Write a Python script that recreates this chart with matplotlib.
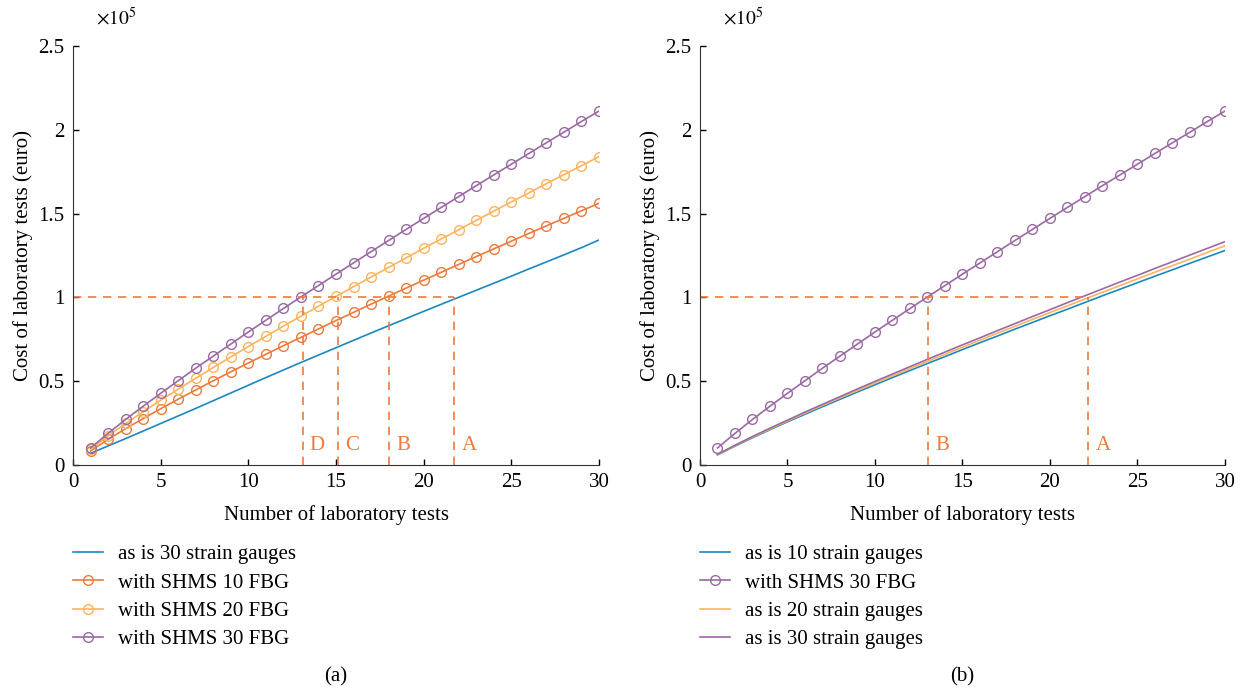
import numpy as np
import matplotlib.pyplot as plt

plt.rcParams['font.family'] = ['Liberation Serif', 'DejaVu Serif']
plt.rcParams['mathtext.fontset'] = 'stix'

# number of tests
n = np.arange(1, 31)

# panel (a), cost in 1e5 euro
as_is_30_a = [0.070, 0.114, 0.158, 0.203, 0.248, 0.293, 0.338, 0.384, 0.430, 0.476,
              0.522, 0.567, 0.612, 0.656, 0.700, 0.744, 0.788, 0.831, 0.874, 0.917,
              0.959, 1.001, 1.043, 1.085, 1.127, 1.170, 1.212, 1.254, 1.297, 1.343]
shms_10 = [0.084, 0.153, 0.217, 0.277, 0.336, 0.393, 0.448, 0.503, 0.556, 0.609,
           0.661, 0.712, 0.762, 0.812, 0.862, 0.911, 0.960, 1.008, 1.056, 1.103,
           1.150, 1.197, 1.244, 1.290, 1.336, 1.382, 1.427, 1.472, 1.517, 1.562]
shms_20 = [0.095, 0.174, 0.248, 0.318, 0.387, 0.453, 0.518, 0.582, 0.645, 0.707,
           0.768, 0.829, 0.888, 0.948, 1.006, 1.064, 1.122, 1.179, 1.236, 1.293,
           1.349, 1.404, 1.460, 1.515, 1.570, 1.624, 1.679, 1.733, 1.786, 1.840]
shms_30 = [0.102, 0.189, 0.272, 0.351, 0.428, 0.503, 0.578, 0.650, 0.722, 0.794,
           0.864, 0.934, 1.003, 1.071, 1.139, 1.206, 1.273, 1.340, 1.406, 1.472,
           1.537, 1.602, 1.667, 1.731, 1.795, 1.859, 1.923, 1.986, 2.050, 2.112]

# panel (b)
as_is_10 = [0.061, 0.113, 0.163, 0.211, 0.258, 0.303, 0.348, 0.392, 0.436, 0.479,
            0.522, 0.564, 0.606, 0.647, 0.689, 0.730, 0.770, 0.811, 0.851, 0.891,
            0.930, 0.970, 1.010, 1.049, 1.088, 1.127, 1.165, 1.204, 1.242, 1.280]
as_is_20 = [0.062, 0.116, 0.167, 0.215, 0.263, 0.310, 0.356, 0.401, 0.445, 0.489,
            0.533, 0.576, 0.619, 0.661, 0.703, 0.745, 0.787, 0.828, 0.869, 0.910,
            0.950, 0.991, 1.031, 1.071, 1.111, 1.151, 1.190, 1.229, 1.269, 1.308]
as_is_30_b = [0.064, 0.118, 0.170, 0.220, 0.268, 0.316, 0.362, 0.408, 0.454, 0.499,
              0.543, 0.587, 0.631, 0.674, 0.717, 0.759, 0.802, 0.844, 0.886, 0.927,
              0.969, 1.010, 1.051, 1.092, 1.132, 1.173, 1.213, 1.253, 1.293, 1.333]

# break-even points
breaks_a = [21.75, 18.05, 15.1, 13.1]
labels_a = ['A', 'B', 'C', 'D']
breaks_b = [22.2, 13.05]
labels_b = ['A', 'B']
hline_end_a = 21.75
hline_end_b = 21.8

c_blue = '#1B88C0'
c_orange = '#EE7A3C'
c_yellow = '#FDB45E'
c_purple = '#9A6AA3'
fs = 15

fig = plt.figure(figsize=(12.42, 6.91), dpi=100)
ax1 = fig.add_axes([0.0588, 0.327, 0.4235, 0.6064])
ax2 = fig.add_axes([0.5636, 0.327, 0.4227, 0.6064])

mk = dict(marker='o', mfc='none', ms=7, mew=1.0, lw=1.2)
ax1.plot(n, as_is_30_a, color=c_blue, lw=1.2, label='as is 30 strain gauges')
ax1.plot(n, shms_10, color=c_orange, label='with SHMS 10 FBG', **mk)
ax1.plot(n, shms_20, color=c_yellow, label='with SHMS 20 FBG', **mk)
ax1.plot(n, shms_30, color=c_purple, label='with SHMS 30 FBG', **mk)

ax2.plot(n, as_is_10, color=c_blue, lw=1.2, label='as is 10 strain gauges')
ax2.plot(n, shms_30, color=c_purple, label='with SHMS 30 FBG', **mk)
ax2.plot(n, as_is_20, color=c_yellow, lw=1.2, label='as is 20 strain gauges')
ax2.plot(n, as_is_30_b, color=c_purple, lw=1.2, label='as is 30 strain gauges')

for ax, brk, lab, hend, tag in [(ax1, breaks_a, labels_a, hline_end_a, '(a)'),
                                (ax2, breaks_b, labels_b, hline_end_b, '(b)')]:
    ax.plot([0, hend], [1, 1], color=c_orange, ls=(0, (5, 4)), lw=1.2)
    for x, l in zip(brk, lab):
        ax.plot([x, x], [0, 1], color=c_orange, ls=(0, (5, 4)), lw=1.2)
        ax.text(x + 0.4, 0.115, l, color=c_orange, fontsize=fs, va='center', ha='left')
    ax.set_xlim(0, 30)
    ax.set_ylim(0, 2.5)
    ax.set_xticks([0, 5, 10, 15, 20, 25, 30])
    ax.set_yticks([0, 0.5, 1, 1.5, 2, 2.5])
    ax.set_yticklabels(['0', '0.5', '1', '1.5', '2', '2.5'])
    ax.tick_params(direction='in', labelsize=fs, length=4, width=1, pad=6)
    for s in ['top', 'right']:
        ax.spines[s].set_visible(False)
    for s in ['left', 'bottom']:
        ax.spines[s].set_color('#333333')
    ax.set_xlabel('Number of laboratory tests', fontsize=fs, labelpad=9)
    ax.set_ylabel('Cost of laboratory tests (euro)', fontsize=fs, labelpad=4)
    ax.text(0.044, 1.068, r'$\times10^5$', transform=ax.transAxes, fontsize=fs - 1,
            ha='left', va='center')
    ax.legend(loc='upper left', bbox_to_anchor=(0.0, -0.19), frameon=False,
              fontsize=fs, handlelength=1.45, handletextpad=0.7, labelspacing=0.42,
              borderaxespad=0, borderpad=0)
    ax.text(0.5, -0.505, tag, transform=ax.transAxes, fontsize=fs, ha='center', va='center')

fig.savefig('out.png', dpi=100)
